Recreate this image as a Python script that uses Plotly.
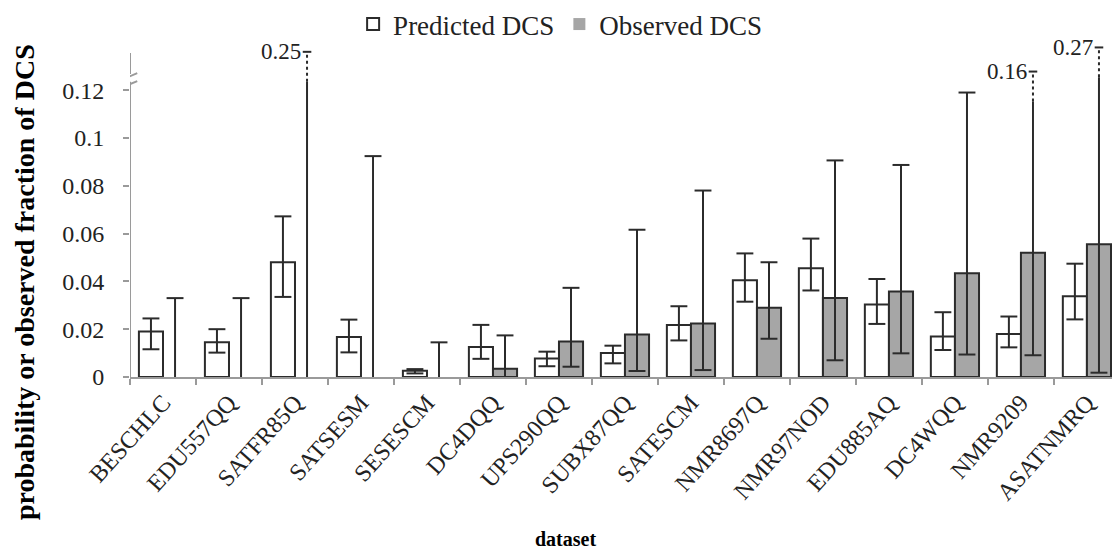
import plotly.graph_objects as go

# Datasets and DCS probabilities / observed fractions with their intervals
datasets = ["BESCHLC", "EDU557QQ", "SATFR85Q", "SATSESM", "SESESCM", "DC4DQQ",
            "UPS290QQ", "SUBX87QQ", "SATESCM", "NMR8697Q", "NMR97NOD", "EDU885AQ",
            "DC4WQQ", "NMR9209", "ASATNMRQ"]
predicted = [0.0190, 0.0145, 0.0480, 0.0167, 0.0026, 0.0125, 0.0077, 0.0100,
             0.0218, 0.0405, 0.0455, 0.0303, 0.0169, 0.0180, 0.0338]
predicted_lo = [0.0116, 0.0102, 0.0335, 0.0103, 0.0015, 0.0076, 0.0045, 0.0057,
                0.0153, 0.0315, 0.0362, 0.0222, 0.0113, 0.0124, 0.0241]
predicted_hi = [0.0245, 0.0200, 0.0672, 0.0240, 0.0033, 0.0218, 0.0106, 0.0131,
                0.0296, 0.0517, 0.0579, 0.0410, 0.0271, 0.0253, 0.0474]
observed = [0.0, 0.0, 0.0, 0.0, 0.0, 0.0034, 0.0149, 0.0178,
            0.0224, 0.0290, 0.0330, 0.0358, 0.0434, 0.0520, 0.0555]
observed_lo = [0.0, 0.0, 0.0, 0.0, 0.0, 0.0, 0.0043, 0.0025,
               0.0029, 0.0160, 0.0070, 0.0099, 0.0094, 0.0091, 0.0018]
observed_hi = [0.0330, 0.0330, 0.25, 0.0924, 0.0145, 0.0174, 0.0373, 0.0616,
               0.0780, 0.0480, 0.0906, 0.0887, 0.1190, 0.16, 0.27]
y_ticks = [0, 0.02, 0.04, 0.06, 0.08, 0.1, 0.12]
y_tick_text = ["0", "0.02", "0.04", "0.06", "0.08", "0.1", "0.12"]

FONT = "Liberation Serif"
ERR_COLOR = "#2b2b2b"
AXIS_COLOR = "#9a9a9a"

# Broken value axis: linear up to Y_BREAK, compressed scale above it
Y_BREAK = 0.12
Y_TOP = 0.1393
UPPER_OFFSET, UPPER_SLOPE = 0.1131, 0.0917
DOTTED_SPAN = 0.0125


def to_axis(v):
    return v if v <= Y_BREAK else UPPER_OFFSET + UPPER_SLOPE * v


BAR_W = 0.365          # each bar's width in category units (bargap 0.27)
CAP = 0.128            # half width of error-bar caps
SMALL_CAP = 0.065


def error_lines(centres, lo, hi):
    xs, ys = [], []
    dx, dy = [], []
    caps_x, caps_y = [], []
    for x, a, b in zip(centres, lo, hi):
        # lower cap (none when the interval starts at zero)
        if a > 0:
            caps_x += [x - CAP, x + CAP, None]
            caps_y += [a, a, None]
        if b <= Y_BREAK:
            xs += [x, x, None]
            ys += [a, b, None]
            caps_x += [x - CAP, x + CAP, None]
            caps_y += [b, b, None]
        else:
            top = to_axis(b)
            xs += [x, x, None]
            ys += [a, top - DOTTED_SPAN, None]
            dx += [x, x, None]
            dy += [top - DOTTED_SPAN, top, None]
            caps_x += [x - SMALL_CAP, x + SMALL_CAP, None]
            caps_y += [top, top, None]
    return xs, ys, dx, dy, caps_x, caps_y


n = len(datasets)
pred_x = [i - BAR_W / 2 for i in range(n)]
obs_x = [i + BAR_W / 2 for i in range(n)]

fig = go.Figure()
fig.add_trace(go.Bar(
    x=datasets, y=predicted, name="Predicted DCS",
    marker=dict(color="white", line=dict(color=ERR_COLOR, width=2)),
))
fig.add_trace(go.Bar(
    x=datasets, y=observed, name="Observed DCS",
    marker=dict(color="#a6a6a6",
                line=dict(color=ERR_COLOR, width=[2 if v > 0 else 0 for v in observed])),
))

for cx, lo, hi in ((pred_x, predicted_lo, predicted_hi),
                   (obs_x, observed_lo, observed_hi)):
    xs, ys, dx, dy, cxs, cys = error_lines(cx, lo, hi)
    line = dict(color=ERR_COLOR, width=2)
    fig.add_trace(go.Scatter(x=xs, y=ys, mode="lines", line=line, xaxis="x2",
                             showlegend=False, hoverinfo="skip"))
    fig.add_trace(go.Scatter(x=cxs, y=cys, mode="lines", line=line, xaxis="x2",
                             showlegend=False, hoverinfo="skip"))
    if dx:
        fig.add_trace(go.Scatter(x=dx, y=dy, mode="lines", xaxis="x2",
                                 line=dict(color=ERR_COLOR, width=2, dash="dot"),
                                 showlegend=False, hoverinfo="skip"))

# Labels for intervals that run past the axis break
for x, b in zip(obs_x, observed_hi):
    if b > Y_BREAK:
        fig.add_annotation(x=x - SMALL_CAP, y=to_axis(b), xref="x2", yref="y",
                           text=f"{b:g}", showarrow=False, xanchor="right",
                           yanchor="middle", font=dict(family=FONT, size=23, color="#222"))

# Value axis drawn in two pieces around the break, with break marks
X_RANGE = [-0.5, 14.38]
ax_x = X_RANGE[0]
axis_line = dict(color=AXIS_COLOR, width=2)
fig.add_shape(type="line", xref="x2", yref="y", x0=ax_x, x1=ax_x, y0=0,
              y1=Y_BREAK + 0.0035, line=axis_line)
fig.add_shape(type="line", xref="x2", yref="y", x0=ax_x, x1=ax_x,
              y0=Y_BREAK + 0.0068, y1=Y_BREAK + 0.0155, line=axis_line)
for off in (0.0025, 0.0058):
    fig.add_shape(type="line", xref="x2", yref="y", x0=ax_x - 0.11, x1=ax_x + 0.11,
                  y0=Y_BREAK + off - 0.0013, y1=Y_BREAK + off + 0.0013, line=axis_line)

fig.add_annotation(text="<b>probability or observed fraction of DCS</b>",
                   xref="paper", yref="paper", x=-0.108, y=0.285, textangle=-90,
                   showarrow=False, xanchor="center", yanchor="middle",
                   font=dict(family=FONT, size=28, color="black"))
fig.add_annotation(text="<b>dataset</b>", xref="paper", yref="paper",
                   x=0.443, y=-0.485, showarrow=False, xanchor="center",
                   yanchor="middle", font=dict(family=FONT, size=20, color="black"))

fig.update_layout(
    width=1112, height=552,
    margin=dict(l=130, r=0, t=40, b=175),
    paper_bgcolor="white", plot_bgcolor="white",
    barmode="group", bargap=0.27, bargroupgap=0,
    font=dict(family=FONT, size=22, color="#222"),
    showlegend=True,
    legend=dict(orientation="h", x=0.438, xanchor="center", y=1.06, yanchor="middle",
                font=dict(family=FONT, size=27, color="#222"),
                itemwidth=30, tracegroupgap=0, bgcolor="rgba(0,0,0,0)"),
    xaxis=dict(type="category", range=X_RANGE, tickson="boundaries", ticks="outside",
               ticklen=6, tickcolor=AXIS_COLOR, tickwidth=2, showline=True,
               linecolor=AXIS_COLOR, linewidth=2, showgrid=False, tickangle=-48,
               tickfont=dict(family=FONT, size=24, color="#222"), zeroline=False),
    xaxis2=dict(overlaying="x", range=X_RANGE, visible=False),
    yaxis=dict(range=[0, Y_TOP], tickvals=y_ticks, ticktext=y_tick_text,
               ticks="outside", ticklen=6, tickcolor=AXIS_COLOR, tickwidth=2,
               showline=False, showgrid=False, zeroline=False, ticklabelstandoff=14,
               tickfont=dict(family=FONT, size=24, color="#222")),
)

fig.write_html("out.html")
